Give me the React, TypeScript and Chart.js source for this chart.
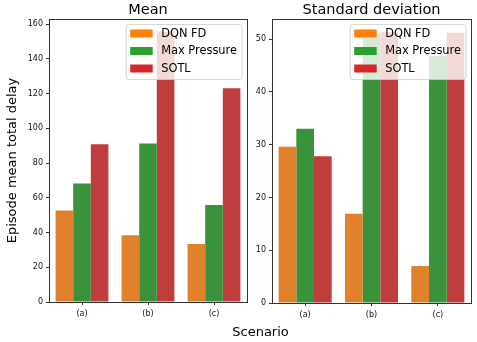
import React, { useEffect, useRef } from 'react';
import { Chart, registerables } from 'chart.js';

Chart.register(...registerables);

const categories = ['(a)', '(b)', '(c)'];
const seriesNames = ['DQN FD', 'Max Pressure', 'SOTL'];

const meanDqn = [52.7, 38.4, 33.4];
const meanMaxPressure = [68.3, 91.3, 55.8];
const meanSotl = [90.9, 155.8, 123.1];

const stdDqn = [29.6, 16.9, 7.0];
const stdMaxPressure = [33.0, 51.0, 46.8];
const stdSotl = [27.8, 51.3, 51.2];

const meanTicks = [0, 20, 40, 60, 80, 100, 120, 140, 160];
const stdTicks = [0, 10, 20, 30, 40, 50];

const barColors = ['#e1812c', '#3a923a', '#c03d3e'];
const legendColors = ['#ff7f0e', '#2ca02c', '#d62728'];

const FONT = '"DejaVu Sans", sans-serif';
const W = 477;
const H = 342;

const panelPlugin = {
  id: 'panel',
  afterDatasetsDraw(chart: any, _args: any, opts: any) {
    const { ctx, chartArea: a } = chart;
    ctx.save();
    // frame (all four spines)
    ctx.strokeStyle = '#333';
    ctx.lineWidth = 1;
    ctx.strokeRect(a.left + 0.5, a.top + 0.5, a.right - a.left, a.bottom - a.top);

    // legend inside, upper right
    const fs = 11.4;
    ctx.font = `${fs}px ${FONT}`;
    const names: string[] = chart.data.datasets.map((d: any) => d.label);
    const textW = Math.max(...names.map((n) => ctx.measureText(n).width));
    const pad = 4.5;
    const handleL = 22.5;
    const gap = 8.5;
    const rowH = 17.5;
    const boxW = pad + handleL + gap + textW + pad;
    const boxH = 55;
    const bx = a.right - 5.5 - boxW;
    const by = a.top + 5;
    ctx.beginPath();
    ctx.roundRect(bx + 0.5, by + 0.5, boxW, boxH, 2.5);
    ctx.fillStyle = 'rgba(255,255,255,0.8)';
    ctx.fill();
    ctx.strokeStyle = 'rgba(204,204,204,0.8)';
    ctx.lineWidth = 1;
    ctx.stroke();
    ctx.textBaseline = 'middle';
    ctx.textAlign = 'left';
    names.forEach((n, i) => {
      const cy = by + 9.5 + i * rowH;
      ctx.fillStyle = opts.legendColors[i];
      ctx.fillRect(bx + pad, cy - 4, handleL, 8);
      ctx.fillStyle = '#000';
      ctx.fillText(n, bx + pad + handleL + gap, cy + 0.5);
    });

    // panel title
    ctx.font = `14.5px ${FONT}`;
    ctx.fillStyle = '#000';
    ctx.textAlign = 'center';
    ctx.textBaseline = 'alphabetic';
    ctx.fillText(opts.title, (a.left + a.right) / 2, a.top - 5);

    // figure-level x label
    if (opts.figLabel) {
      ctx.font = `13px ${FONT}`;
      ctx.textBaseline = 'middle';
      ctx.fillText(opts.figLabel, 260.5, 333);
    }
    ctx.restore();
  },
};

function makeConfig(
  title: string,
  series: number[][],
  ticks: number[],
  max: number,
  padLeft: number,
  padRight: number,
  xHeight: number,
  showYTitle: boolean,
  figLabel: string | null
): any {
  return {
    type: 'bar',
    data: {
      labels: categories,
      datasets: series.map((vals, i) => ({
        label: seriesNames[i],
        data: vals,
        backgroundColor: barColors[i],
        borderWidth: 0,
        categoryPercentage: 0.8,
        barPercentage: 1.0,
      })),
    },
    options: {
      responsive: false,
      animation: false,
      devicePixelRatio: 1,
      layout: { padding: { left: padLeft, right: padRight, top: 19, bottom: 0 } },
      plugins: {
        legend: { display: false },
        tooltip: { enabled: false },
        title: { display: false },
        panel: { title, legendColors, figLabel },
      },
      scales: {
        x: {
          afterFit: (s: any) => {
            s.height = xHeight;
          },
          grid: { offset: false, drawOnChartArea: false, drawTicks: true, tickLength: 3, color: '#333' },
          border: { display: false },
          ticks: { font: { size: 8, family: FONT }, color: '#111', padding: 4 },
        },
        y: {
          min: 0,
          max,
          afterFit: (s: any) => {
            s.width = 49;
          },
          afterBuildTicks: (s: any) => {
            s.ticks = ticks.map((v) => ({ value: v }));
          },
          grid: { drawOnChartArea: false, drawTicks: true, tickLength: 3, color: '#333' },
          border: { display: false },
          ticks: { font: { size: 8, family: FONT }, color: '#111', padding: 3 },
          title: showYTitle
            ? {
                display: true,
                text: 'Episode mean total delay',
                font: { size: 13, family: FONT },
                color: '#000',
                padding: { top: 5, bottom: 0 },
              }
            : { display: false },
        },
      },
    },
    plugins: [panelPlugin],
  };
}

export default function App() {
  const leftRef = useRef<HTMLCanvasElement>(null);
  const rightRef = useRef<HTMLCanvasElement>(null);

  useEffect(() => {
    Chart.defaults.font.family = FONT;
    const c1 = new Chart(
      leftRef.current as HTMLCanvasElement,
      makeConfig('Mean', [meanDqn, meanMaxPressure, meanSotl], meanTicks, 163, 0, W - 247, 40, true, 'Scenario')
    );
    const c2 = new Chart(
      rightRef.current as HTMLCanvasElement,
      makeConfig('Standard deviation', [stdDqn, stdMaxPressure, stdSotl], stdTicks, 53.8, 272 - 49, W - 471, 39, false, null)
    );
    return () => {
      c1.destroy();
      c2.destroy();
    };
  }, []);

  const canvasStyle: React.CSSProperties = { position: 'absolute', left: 0, top: 0, width: W, height: H };
  return (
    <div style={{ position: 'fixed', left: 0, top: 0, width: W, height: H, background: '#fff', overflow: 'hidden' }}>
      <canvas ref={leftRef} width={W} height={H} style={canvasStyle} />
      <canvas ref={rightRef} width={W} height={H} style={canvasStyle} />
    </div>
  );
}
